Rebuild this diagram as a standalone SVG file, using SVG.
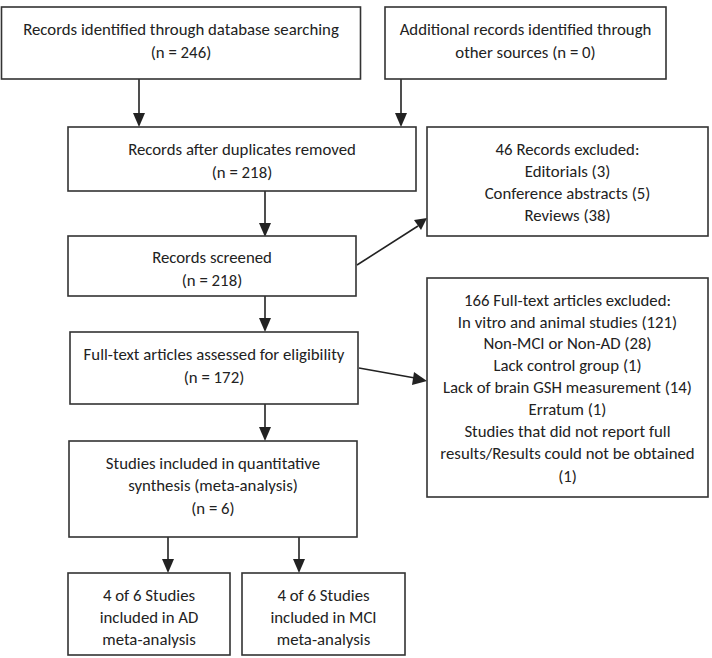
<svg xmlns="http://www.w3.org/2000/svg" width="712" height="658" viewBox="0 0 712 658">
<style>
.box{fill:#fff;stroke:#333;stroke-width:1.6}
text{font-family:Carlito,Lato,"Liberation Sans",sans-serif;font-size:16.8px;fill:#222;text-anchor:middle;dominant-baseline:central}
.c{stroke:#222;stroke-width:1.6;fill:none}
.h{fill:#222}
</style>
<rect width="712" height="658" fill="#fff"/>
<g id="connectors">
<line class="c" x1="139" y1="79" x2="139" y2="114"/>
<path class="h" d="M133,113 L139,127 L145,113 z"/>
<line class="c" x1="401" y1="79" x2="401" y2="114"/>
<path class="h" d="M395,113 L401,127 L407,113 z"/>
<line class="c" x1="265" y1="191" x2="265" y2="224"/>
<path class="h" d="M259,223 L265,237 L271,223 z"/>
<line class="c" x1="357" y1="265" x2="418" y2="226"/>
<path class="h" d="M414,220 L427,218 L421,230 z"/>
<line class="c" x1="265" y1="296" x2="265" y2="319"/>
<path class="h" d="M259,318 L265,332 L271,318 z"/>
<line class="c" x1="359" y1="368" x2="415" y2="378"/>
<path class="h" d="M414,372 L427,381 L412,385 z"/>
<line class="c" x1="265" y1="404" x2="265" y2="428"/>
<path class="h" d="M259,427 L265,441 L271,427 z"/>
<line class="c" x1="168" y1="537" x2="168" y2="560"/>
<path class="h" d="M162,559 L168,573 L174,559 z"/>
<line class="c" x1="299" y1="537" x2="299" y2="560"/>
<path class="h" d="M293,559 L299,573 L305,559 z"/>
</g>
<g id="n1"><rect class="box" x="1.5" y="7" width="359" height="72"/>
<text x="181" y="29">Records identified through database searching</text>
<text x="181" y="52">(n = 246)</text></g>
<g id="n2"><rect class="box" x="385" y="7" width="281" height="72"/>
<text x="525.5" y="29">Additional records identified through</text>
<text x="525.5" y="52">other sources (n = 0)</text></g>
<g id="n3"><rect class="box" x="68" y="127" width="348" height="64"/>
<text x="242" y="149">Records after duplicates removed</text>
<text x="242" y="172">(n = 218)</text></g>
<g id="n4"><rect class="box" x="427" y="127" width="281" height="109"/>
<text x="567.5" y="149">46 Records excluded:</text>
<text x="567.5" y="171">Editorials (3)</text>
<text x="567.5" y="193">Conference abstracts (5)</text>
<text x="567.5" y="215">Reviews (38)</text></g>
<g id="n5"><rect class="box" x="68" y="236" width="288" height="60"/>
<text x="212" y="257">Records screened</text>
<text x="212" y="280">(n = 218)</text></g>
<g id="n6"><rect class="box" x="70" y="332" width="288" height="72"/>
<text x="214" y="354">Full-text articles assessed for eligibility</text>
<text x="214" y="377">(n = 172)</text></g>
<g id="n7"><rect class="box" x="427" y="278" width="281" height="219"/>
<text x="567.5" y="300">166 Full-text articles excluded:</text>
<text x="567.5" y="322">In vitro and animal studies (121)</text>
<text x="567.5" y="343">Non-MCI or Non-AD (28)</text>
<text x="567.5" y="365">Lack control group (1)</text>
<text x="567.5" y="387">Lack of brain GSH measurement (14)</text>
<text x="567.5" y="409">Erratum (1)</text>
<text x="567.5" y="431">Studies that did not report full</text>
<text x="567.5" y="453">results/Results could not be obtained</text>
<text x="567.5" y="476">(1)</text></g>
<g id="n8"><rect class="box" x="69" y="441" width="288" height="96"/>
<text x="213" y="463">Studies included in quantitative</text>
<text x="213" y="485">synthesis (meta-analysis)</text>
<text x="213" y="508">(n = 6)</text></g>
<g id="n9"><rect class="box" x="68" y="573" width="162" height="82"/>
<text x="149" y="595">4 of 6 Studies</text>
<text x="149" y="617">included in AD</text>
<text x="149" y="639">meta-analysis</text></g>
<g id="n10"><rect class="box" x="242" y="573" width="163" height="82"/>
<text x="323.5" y="595">4 of 6 Studies</text>
<text x="323.5" y="617">included in MCI</text>
<text x="323.5" y="639">meta-analysis</text></g>
</svg>
